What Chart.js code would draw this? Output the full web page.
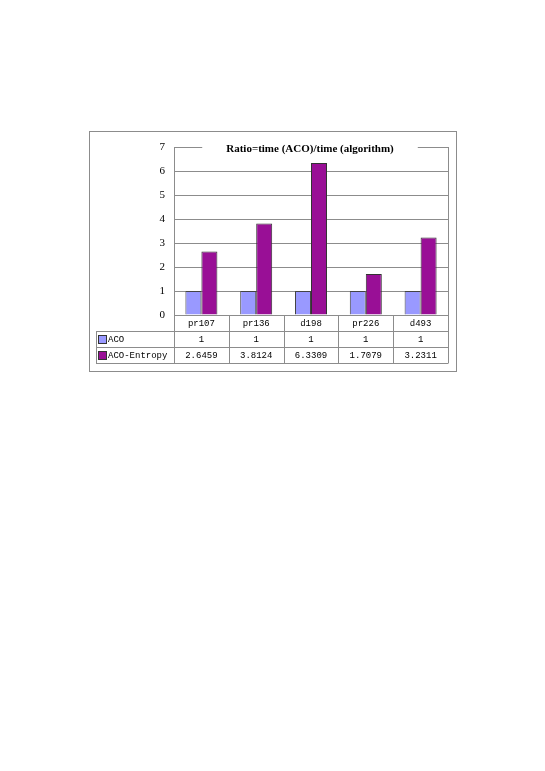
<!DOCTYPE html>
<html><head><meta charset="utf-8">
<script src="https://cdn.jsdelivr.net/npm/chart.js@4/dist/chart.umd.min.js"></script>
<style>html,body{margin:0;padding:0;background:#fff;}#wrap{position:absolute;left:0;top:0;width:545px;height:771px;}</style>
</head><body><div id="wrap"><canvas id="c" width="545" height="771"></canvas></div>
<script>
const categories = ["pr107", "pr136", "d198", "pr226", "d493"];
const seriesNames = ["ACO", "ACO-Entropy"];
const acoValues = [1, 1, 1, 1, 1];
const acoEntropyValues = [2.6459, 3.8124, 6.3309, 1.7079, 3.2311];
const acoLabels = ["1", "1", "1", "1", "1"];
const acoEntropyLabels = ["2.6459", "3.8124", "6.3309", "1.7079", "3.2311"];
const titleText = "Ratio=time (ACO)/time (algorithm)";
const colors = ["#9999FF", "#990F96"];

const Y_W = 30;
const tablePlugin = {
  id: 'tablePlugin',
  afterDraw(chart) {
    const ctx = chart.ctx, a = chart.chartArea, xs = chart.scales.x;
    const n = categories.length;
    const step = (a.right - a.left) / n;
    const bounds = [];
    for (let i = 0; i <= n; i++) bounds.push(a.left + step * i);
    const rowH = 16, top = a.bottom, legL = 96;
    ctx.save();
    ctx.strokeStyle = '#8c8c8c'; ctx.lineWidth = 1;
    const L = (x1,y1,x2,y2)=>{ctx.beginPath();ctx.moveTo(x1,y1);ctx.lineTo(x2,y2);ctx.stroke();};
    ctx.strokeRect(89.5, 131.5, 367, 240);
    L(Math.round(a.right)+0.5, a.top, Math.round(a.right)+0.5, a.bottom);
    for (let r = 1; r <= 3; r++) {
      const y = Math.round(top + rowH * r) + 0.5;
      L(legL, y, a.right+0.5, y);
    }
    bounds.forEach(x => { const xx = Math.round(x)+0.5; L(xx, top, xx, top + rowH*3); });
    L(legL+0.5, top+rowH, legL+0.5, top+rowH*3);
    ctx.fillStyle = '#000';
    ctx.font = '9px "Liberation Mono", monospace';
    ctx.textAlign = 'center'; ctx.textBaseline = 'middle';
    categories.forEach((c, i) => ctx.fillText(c, xs.getPixelForValue(i), top + rowH*0.5 + 1));
    acoLabels.forEach((c, i) => ctx.fillText(c, xs.getPixelForValue(i), top + rowH*1.5 + 1));
    acoEntropyLabels.forEach((c, i) => ctx.fillText(c, xs.getPixelForValue(i), top + rowH*2.5 + 1));
    ctx.textAlign = 'left';
    seriesNames.forEach((s, k) => {
      const y = top + rowH*(1.5 + k);
      ctx.fillStyle = colors[k];
      ctx.fillRect(98, y - 4, 9, 9);
      ctx.strokeStyle = '#333';
      ctx.strokeRect(98.5, y - 3.5, 8, 8);
      ctx.fillStyle = '#000';
      ctx.fillText(s, 108, y + 1);
    });
    ctx.font = 'bold 11px "Liberation Serif", serif';
    const tw = ctx.measureText(titleText).width;
    const cx = 310;
    ctx.fillStyle = '#fff';
    ctx.fillRect(cx - tw/2 - 24, a.top - 2, tw + 48, 5);
    ctx.fillStyle = '#000'; ctx.textAlign = 'center';
    ctx.fillText(titleText, cx, a.top + 2);
    ctx.restore();
  }
};

new Chart(document.getElementById('c'), {
  type: 'bar',
  data: {
    labels: categories,
    datasets: [
      { label: seriesNames[0], data: acoValues, backgroundColor: colors[0], borderColor: '#444', borderWidth: 1 },
      { label: seriesNames[1], data: acoEntropyValues, backgroundColor: colors[1], borderColor: '#333', borderWidth: 1 }
    ]
  },
  options: {
    responsive: false, animation: false, devicePixelRatio: 1,
    layout: { padding: { left: 174 - Y_W, top: 147, right: 97, bottom: 771 - 315 } },
    plugins: { legend: { display: false }, tooltip: { enabled: false }, title: { display: false } },
    datasets: { bar: { categoryPercentage: 0.584, barPercentage: 1 } },
    scales: {
      x: { display: true, grid: { display: false }, border: { display: false }, ticks: { display: false },
           afterFit: s => { s.height = 0; } },
      y: { min: 0, max: 7, ticks: { stepSize: 1, color: '#000', padding: 9, font: { family: '"Liberation Serif", serif', size: 11 } },
           grid: { color: '#8c8c8c', drawTicks: false }, border: { color: '#8c8c8c' },
           afterFit: s => { s.width = Y_W; } }
    }
  },
  plugins: [tablePlugin]
});
</script></body></html>
